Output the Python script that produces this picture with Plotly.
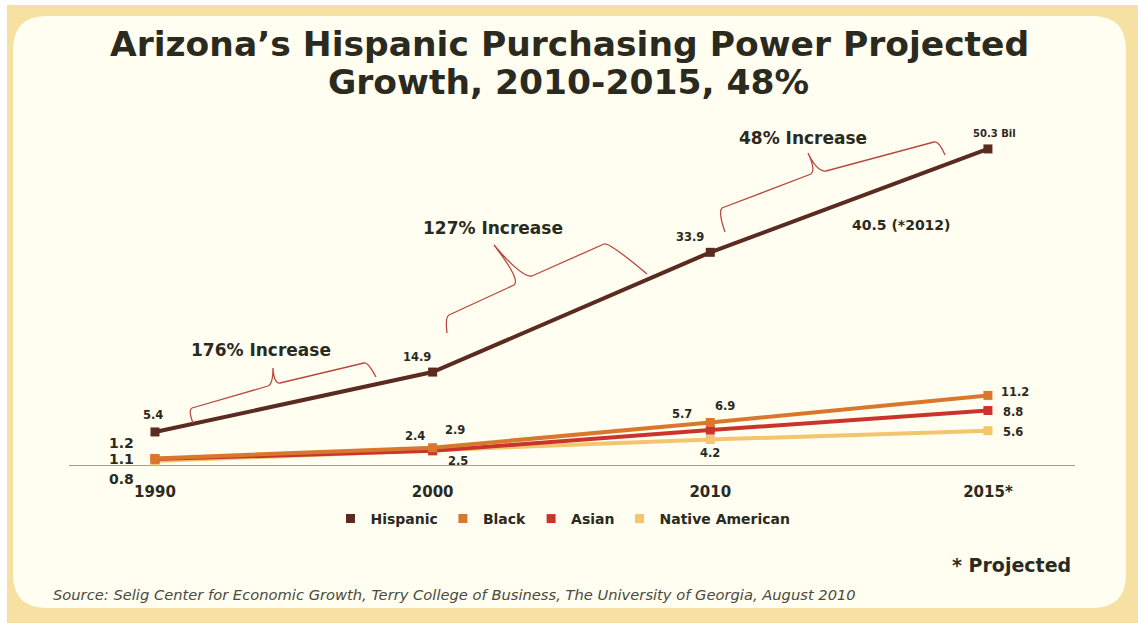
import plotly.graph_objects as go

# ---- data (billions of dollars) ----
years = ["1990", "2000", "2010", "2015*"]
hispanic = [5.4, 14.9, 33.9, 50.3]
black = [1.2, 2.9, 6.9, 11.2]
asian = [1.1, 2.4, 5.7, 8.8]
native_american = [0.8, 2.5, 4.2, 5.6]

series_names = ["Hispanic", "Black", "Asian", "Native American"]
series_values = [hispanic, black, asian, native_american]
colors = ["#5B2A20", "#D9782C", "#C9342C", "#F3C56E"]

# ---- page geometry ----
W, H = 1138, 623
L, R, T, B = 120, 64, 113, 157
PW, PH = W - L - R, H - T - B
TEXT = "#2B2A1F"
FONT = "DejaVu Sans"


def P(px, py):
    """pixel position on the page -> paper coordinates"""
    return (px - L) / PW, (H - B - py) / PH


def path(points, cmds):
    out = []
    i = 0
    for c in cmds:
        if c in "ML":
            x, y = P(*points[i]); i += 1
            out.append(f"{c}{x:.5f},{y:.5f}")
        elif c == "Q":
            x1, y1 = P(*points[i]); x2, y2 = P(*points[i + 1]); i += 2
            out.append(f"Q{x1:.5f},{y1:.5f} {x2:.5f},{y2:.5f}")
        elif c == "Z":
            out.append("Z")
    return " ".join(out)


fig = go.Figure()
xpos = list(range(len(years)))

# draw the smaller groups first so Hispanic sits on top
for name, vals, col in reversed(list(zip(series_names, series_values, colors))):
    fig.add_trace(go.Scatter(
        x=xpos, y=vals, mode="lines+markers", name=name,
        line=dict(color=col, width=4),
        marker=dict(symbol="square", size=9, color=col),
        showlegend=False, hoverinfo="y+name", cliponaxis=False,
    ))

# legend entries: plain squares
for name, col in zip(series_names, colors):
    fig.add_trace(go.Scatter(
        x=[None], y=[None], mode="markers", name=f"<b>{name}</b>",
        marker=dict(symbol="square", size=9, color=col), showlegend=True,
    ))

shapes = []
# white strip at top/left and the rounded cream panel
shapes.append(dict(type="rect", xref="paper", yref="paper", layer="below",
                   x0=P(0, 0)[0], x1=P(W, 0)[0], y0=P(0, 0)[1], y1=P(0, 5)[1],
                   fillcolor="#FFFFFF", line=dict(width=0)))
shapes.append(dict(type="rect", xref="paper", yref="paper", layer="below",
                   x0=P(0, 0)[0], x1=P(7, 0)[0], y0=P(0, 0)[1], y1=P(0, H)[1],
                   fillcolor="#FFFFFF", line=dict(width=0)))
x0, y0, x1, y1, rr = 13, 16, 1126, 608, 34
panel_pts = [(x0 + rr, y0), (x1 - rr, y0), (x1, y0), (x1, y0 + rr), (x1, y1 - rr),
             (x1, y1), (x1 - rr, y1), (x0 + rr, y1), (x0, y1), (x0, y1 - rr),
             (x0, y0 + rr), (x0, y0), (x0 + rr, y0)]
shapes.append(dict(type="path", xref="paper", yref="paper", layer="below",
                   path=path(panel_pts, "MLQLQLQLQZ"),
                   fillcolor="#FFFEF0", line=dict(width=0)))

# baseline at zero, running out past the left edge of the plot
shapes.append(dict(type="line", xref="paper", yref="y", layer="below",
                   x0=P(69, 0)[0], x1=P(1075, 0)[0], y0=0, y1=0,
                   line=dict(color="#7C8070", width=1.5)))

# curly braces marking each growth period
brace_color = "#B9473D"
braces = [
    [(193, 423), (188, 410), (192, 408), (268, 386), (273, 384), (273, 368),
     (274, 384), (280, 383), (364, 363), (368, 362), (376, 377)],
    [(447, 333), (445, 317), (449, 315), (514, 285), (521, 280), (494, 245),
     (522, 278), (532, 276), (604, 244), (609, 242), (647, 274)],
    [(725, 232), (718, 212), (722, 208), (811, 174), (816, 170), (808, 153),
     (817, 172), (826, 171), (934, 142), (939, 141), (945, 155)],
]
for b in braces:
    shapes.append(dict(type="path", xref="paper", yref="paper", layer="above",
                       path=path(b, "MQLQQLQ"),
                       line=dict(color=brace_color, width=1.3)))

ann = []


def page_text(txt, px, py, size, bold=True, color=TEXT, xanchor="center", italic=False):
    x, y = P(px, py)
    t = txt
    if bold:
        t = f"<b>{t}</b>"
    if italic:
        t = f"<i>{t}</i>"
    ann.append(dict(text=t, x=x, y=y, xref="paper", yref="paper", xanchor=xanchor,
                    yanchor="middle", showarrow=False,
                    font=dict(family=FONT, size=size, color=color)))


# title
page_text("Arizona’s Hispanic Purchasing Power Projected", 569, 44, 34.5)
page_text("Growth, 2010-2015, 48%", 568, 82, 34.5)

# period labels
page_text("176% Increase", 261, 350, 17)
page_text("127% Increase", 493, 228, 17)
page_text("48% Increase", 803, 138, 17)
page_text("40.5 (*2012)", 901, 225, 14)

# value labels tied to their points (xshift, yshift in pixels)
offsets = {
    "Hispanic": [(-2, 17), (-16, 15), (-20, 15), (7, 15)],
    "Black": [(-33, 15), (22, 18), (15, 17), (27, 3)],
    "Asian": [(-33, 0), (-18, 15), (-28, 16), (25, -1)],
    "Native American": [(-33, -18), (25, -11), (0, -13), (25, -1)],
}
for name, vals in zip(series_names, series_values):
    for i, v in enumerate(vals):
        dx, dy = offsets[name][i]
        label = f"{v:g}"
        size = 11.5
        if name == "Hispanic" and i == len(vals) - 1:
            label = f"{v:g} Bil"
            size = 10
        if name != "Hispanic" and i == 0:
            size = 14
        ann.append(dict(text=f"<b>{label}</b>", x=xpos[i], y=v, xref="x", yref="y",
                        xshift=dx, yshift=dy, showarrow=False,
                        font=dict(family=FONT, size=size, color=TEXT)))

page_text("* Projected", 1011, 565, 19)
page_text("Source: Selig Center for Economic Growth, Terry College of Business, "
          "The University of Georgia, August 2010", 51, 594, 14.7,
          bold=False, italic=True, color="#4A4A3E", xanchor="left")

fig.update_layout(
    width=W, height=H,
    margin=dict(l=L, r=R, t=T, b=B),
    paper_bgcolor="#F6E1A2",
    plot_bgcolor="rgba(0,0,0,0)",
    shapes=shapes,
    annotations=ann,
    showlegend=True,
    legend=dict(orientation="h", x=P(563, 0)[0], y=P(0, 519)[1],
                xanchor="center", yanchor="middle",
                font=dict(family=FONT, size=14, color=TEXT),
                bgcolor="rgba(0,0,0,0)", itemwidth=30, tracegroupgap=0),
    xaxis=dict(range=[-0.126, 3.31], showgrid=False,
               zeroline=False, showline=False,
               ticks="", tickmode="array", tickvals=xpos,
               ticktext=[f"<b>{y}</b>" for y in years],
               tickfont=dict(family=FONT, size=15, color=TEXT),
               ticklabelstandoff=15),
    yaxis=dict(range=[0, 56], showgrid=False, zeroline=False, showline=False,
               showticklabels=False, ticks=""),
)

fig.write_html("out.html")
